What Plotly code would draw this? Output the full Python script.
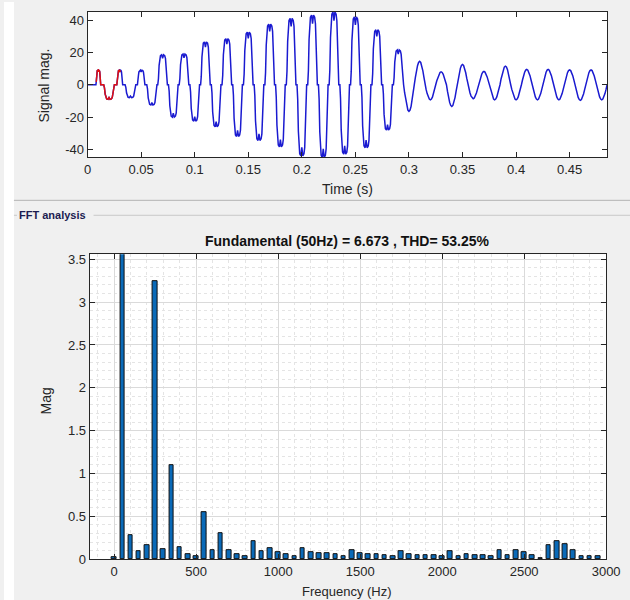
import plotly.graph_objects as go

# ---------------- DATA ----------------
half_centers = [0.01, 0.02, 0.03, 0.04, 0.05, 0.06, 0.07, 0.08, 0.09, 0.10,
                0.11, 0.12, 0.13, 0.14, 0.15, 0.16, 0.17, 0.18, 0.19, 0.20,
                0.21, 0.22, 0.23, 0.24, 0.25, 0.26, 0.27, 0.28, 0.29, 0.30,
                0.31, 0.32, 0.33, 0.34, 0.35, 0.36, 0.37, 0.38, 0.39, 0.40,
                0.41, 0.42, 0.43, 0.44, 0.45, 0.46, 0.47, 0.48]
half_peaks = [9, -9, 9, -8, 9, -12.5, 18.5, -20, 19, -22.5,
              26.5, -26, 28.5, -32, 32.5, -34.5, 37.5, -38.5, 41, -44,
              43, -45, 45, -43, 42, -39, 34, -28, 21.5, -16.5,
              14.5, -9.3, 8, -13.5, 12.5, -8.7, 8.2, -9.3, 11.5, -9.3,
              9.5, -9.3, 9.5, -9.3, 9.2, -9.7, 9.2, -9.3]
half_widths_ms = [4.5, 10, 5.5, 10, 7, 9.5, 9, 9, 9, 9,
                  9, 9, 9, 9, 9, 9, 9, 9, 9, 9,
                  9, 9, 9, 9, 9, 9, 9, 9, 9, 10,
                  10, 10, 10, 10, 10, 10, 10, 10, 10, 10,
                  10, 10, 10, 10, 10, 10, 10, 10]
half_kinds = ['c'] * 29 + ['s'] * 19

chop_offsets = [-5.0, -4.3, -3.6, -3.0, -2.2, -1.0, 0.0, 1.0, 2.2, 3.0, 3.6, 4.3, 5.0]
chop_shape = [0.0, 0.2, 0.65, 0.88, 0.97, 1.0, 0.88, 1.0, 0.97, 0.88, 0.65, 0.2, 0.0]
sine_offsets = [-5, -4, -3, -2, -1, 0, 1, 2, 3, 4, 5]
sine_shape = [0.0, 0.31, 0.59, 0.81, 0.95, 1.0, 0.95, 0.81, 0.59, 0.31, 0.0]

fft_window = [0.008, 0.031]

time_ticks = [0, 0.05, 0.1, 0.15, 0.2, 0.25, 0.3, 0.35, 0.4, 0.45]
time_ticktext = ["0", "0.05", "0.1", "0.15", "0.2", "0.25", "0.3", "0.35", "0.4", "0.45"]
sig_ticks = [-40, -20, 0, 20, 40]
sig_ticktext = ["-40", "-20", "0", "20", "40"]

harm_freqs = [0, 50, 100, 150, 200, 250, 300, 350, 400, 450,
              500, 550, 600, 650, 700, 750, 800, 850, 900, 950,
              1000, 1050, 1100, 1150, 1200, 1250, 1300, 1350, 1400, 1450,
              1500, 1550, 1600, 1650, 1700, 1750, 1800, 1850, 1900, 1950,
              2000, 2050, 2100, 2150, 2200, 2250, 2300, 2350, 2400, 2450,
              2500, 2550, 2600, 2650, 2700, 2750, 2800, 2850, 2900, 2950]
harm_mags = [0.02, 6.673, 0.28, 0.09, 0.16, 3.25, 0.12, 1.10, 0.14, 0.06,
             0.04, 0.55, 0.10, 0.30, 0.10, 0.06, 0.04, 0.21, 0.09, 0.13,
             0.08, 0.06, 0.04, 0.125, 0.08, 0.07, 0.07, 0.06, 0.04, 0.10,
             0.07, 0.06, 0.06, 0.045, 0.04, 0.09, 0.06, 0.045, 0.045, 0.045,
             0.03, 0.09, 0.04, 0.06, 0.045, 0.045, 0.03, 0.10, 0.045, 0.10,
             0.08, 0.045, 0.015, 0.165, 0.215, 0.18, 0.10, 0.04, 0.04, 0.03]
freq_ticks = [0, 500, 1000, 1500, 2000, 2500, 3000]
freq_ticktext = ["0", "500", "1000", "1500", "2000", "2500", "3000"]
mag_ticks = [0, 0.5, 1, 1.5, 2, 2.5, 3, 3.5]
mag_ticktext = ["0", "0.5", "1", "1.5", "2", "2.5", "3", "3.5"]

title_text = "Fundamental (50Hz) = 6.673 , THD= 53.25%"

# ---------------- BUILD SIGNAL ----------------
t_pts, y_pts = [0.0], [0.0]
for c, p, w, k in zip(half_centers, half_peaks, half_widths_ms, half_kinds):
    offs, shp = (chop_offsets, chop_shape) if k == 'c' else (sine_offsets, sine_shape)
    for o, s in zip(offs, shp):
        t_pts.append(c + o * w / 10.0 / 1000.0)
        y_pts.append(p * s)

red_t = [t for t in t_pts if fft_window[0] <= t <= fft_window[1]]
red_y = [y for t, y in zip(t_pts, y_pts) if fft_window[0] <= t <= fft_window[1]]

W, H = 645, 608          # layout size
TW, TH = 630, 600        # target picture size
def px(x):
    return x / TW
def py(y):
    return 1 - y / TH

FONT = "Liberation Sans, Arial, Helvetica, sans-serif"
AX = "#262626"

fig = go.Figure()
fig.add_trace(go.Scatter(x=t_pts, y=y_pts, mode="lines",
                         line=dict(color="#1a1ad0", width=1.5),
                         xaxis="x", yaxis="y", showlegend=False))
fig.add_trace(go.Scatter(x=red_t, y=red_y, mode="lines",
                         line=dict(color="#e01010", width=1.5),
                         xaxis="x", yaxis="y", showlegend=False))
fig.add_trace(go.Bar(x=harm_freqs, y=harm_mags, width=28,
                     marker=dict(color="#0a6ab8", line=dict(color="#101010", width=1)),
                     xaxis="x2", yaxis="y2", showlegend=False))

common_axis = dict(showline=True, linecolor=AX, linewidth=1, mirror="ticks",
                   ticks="inside", ticklen=5, tickcolor=AX, zeroline=False,
                   tickfont=dict(family=FONT, size=13, color=AX))

fig.update_layout(
    width=W, height=H, autosize=False,
    margin=dict(l=0, r=0, t=0, b=0),
    paper_bgcolor="#f0f0f0",
    plot_bgcolor="white",
    font=dict(family=FONT, color=AX),
    bargap=0,
    xaxis=dict(domain=[px(84), px(606)], anchor="y", range=[0, 0.485],
               tickvals=time_ticks, ticktext=time_ticktext, showgrid=False, **common_axis),
    yaxis=dict(domain=[py(156), py(10)], anchor="x", range=[-45, 45],
               tickvals=sig_ticks, ticktext=sig_ticktext, showgrid=False, **common_axis),
    xaxis2=dict(domain=[px(86), px(605)], anchor="y2", range=[-150, 3000],
                tickvals=freq_ticks, ticktext=freq_ticktext,
                showgrid=True, gridcolor="#dadada", gridwidth=1,
                minor=dict(dtick=100, tick0=0, showgrid=True, gridcolor="#e4e4e4",
                           griddash="dot", ticks=""),
                **common_axis),
    yaxis2=dict(domain=[py(559), py(253)], anchor="x2", range=[0, 3.56],
                tickvals=mag_ticks, ticktext=mag_ticktext,
                showgrid=True, gridcolor="#dadada", gridwidth=1,
                minor=dict(dtick=0.1, tick0=0, showgrid=True, gridcolor="#e4e4e4",
                           griddash="dot", ticks=""),
                **common_axis),
    shapes=[
        dict(type="rect", xref="paper", yref="paper", x0=0, x1=px(10), y0=0, y1=1,
             fillcolor="white", line=dict(width=0), layer="below"),
        dict(type="line", xref="paper", yref="paper", x0=px(10), x1=1, y0=py(199), y1=py(199),
             line=dict(color="#b4b4b4", width=1)),
        dict(type="line", xref="paper", yref="paper", x0=px(10), x1=px(13), y0=py(214), y1=py(214),
             line=dict(color="#c8c8c8", width=1)),
        dict(type="line", xref="paper", yref="paper", x0=px(90), x1=1, y0=py(214), y1=py(214),
             line=dict(color="#c8c8c8", width=1)),
    ],
    annotations=[
        dict(text="Signal mag.", xref="paper", yref="paper", x=px(40), y=py(84),
             textangle=-90, showarrow=False, font=dict(family=FONT, size=14, color=AX),
             xanchor="center", yanchor="middle"),
        dict(text="Time (s)", xref="paper", yref="paper", x=px(345), y=py(188),
             showarrow=False, font=dict(family=FONT, size=14, color=AX),
             xanchor="center", yanchor="middle"),
        dict(text="<b>FFT analysis</b>", xref="paper", yref="paper", x=px(13), y=py(214),
             showarrow=False, font=dict(family=FONT, size=11, color="#1c1c50"),
             xanchor="left", yanchor="middle"),
        dict(text="<b>" + title_text + "</b>", xref="paper", yref="paper", x=px(345), y=py(240),
             showarrow=False, font=dict(family=FONT, size=14, color="#111111"),
             xanchor="center", yanchor="middle"),
        dict(text="Mag", xref="paper", yref="paper", x=px(42), y=py(400),
             textangle=-90, showarrow=False, font=dict(family=FONT, size=14, color=AX),
             xanchor="center", yanchor="middle"),
        dict(text="Frequency (Hz)", xref="paper", yref="paper", x=px(345), y=py(591.5),
             showarrow=False, font=dict(family=FONT, size=13, color=AX),
             xanchor="center", yanchor="middle"),
    ],
)

fig.write_html("out.html", config={"responsive": False})
